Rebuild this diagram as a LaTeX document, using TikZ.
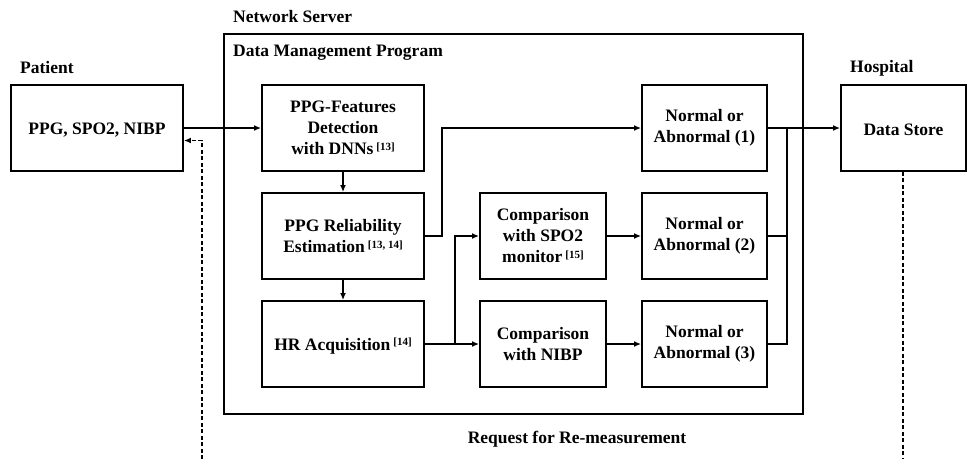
\documentclass[tikz,border=0pt]{standalone}
\usepackage{fontspec}
\setmainfont{Liberation Serif}
\usetikzlibrary{arrows.meta,calc}
\newcommand{\refsup}[1]{\raisebox{0.55ex}{\fontsize{11}{11}\selectfont #1}}
\begin{document}
\begin{tikzpicture}[x=1pt,y=-1pt,
  txt/.style={font=\bfseries\fontsize{17.5}{21}\selectfont},
  box/.style={draw,line width=1.9pt,align=center,inner sep=0pt,
    minimum height=86pt,txt,execute at begin node={\rule{0pt}{16pt}}},
  title/.style={txt,anchor=west,inner sep=0pt},
  conn/.style={line width=1.6pt},
  arr/.style={conn,-{Latex[length=7pt,width=6pt]}},
  dash line/.style={line width=1.4pt,dash pattern=on 4pt off 2.5pt}]
\useasboundingbox (0,0) rectangle (967,459);

% outer server frame
\node[draw,line width=1.9pt,minimum width=579pt,minimum height=380pt,inner sep=0pt]
  (server) at (513.5,224) {};

% titles
\node[title] (tserver) at (233,17) {Network Server};
\node[title] (tprog)   at (233,53) {Data Management Program};
\node[title] (tpat)    at (20,68)  {Patient};
\node[title] (thosp)   at (850,68) {Hospital};
\node[txt,inner sep=0pt] (treq) at (577,439) {Request for Re-measurement};

% boxes
\node[box,minimum width=172pt] (patient) at (97,128) {PPG, SPO2, NIBP};
\node[box,minimum width=162pt] (ppgf) at (343,128) {PPG-Features\\Detection\\with DNNs\,\refsup{[13]}};
\node[box,minimum width=162pt] (rel)  at (343,236) {PPG Reliability\\Estimation\,\refsup{[13, 14]}};
\node[box,minimum width=162pt] (hr)   at (343,344) {HR Acquisition\,\refsup{[14]}};
\node[box,minimum width=126pt] (spo2) at (543,236) {Comparison\\with SPO2\\monitor\,\refsup{[15]}};
\node[box,minimum width=126pt] (nibp) at (543,344) {Comparison\\with NIBP};
\node[box,minimum width=125pt] (n1) at (704.5,128) {Normal or\\Abnormal (1)};
\node[box,minimum width=125pt] (n2) at (704.5,236) {Normal or\\Abnormal (2)};
\node[box,minimum width=125pt] (n3) at (704.5,344) {Normal or\\Abnormal (3)};
\node[box,minimum width=125pt] (store) at (903.5,128) {Data Store};

% junction points
\coordinate (hrsplit) at (455,344);
\coordinate (join) at (787,128);
\coordinate (storeEnd) at (903,459);
\coordinate (patStart) at (202,459);

% connectors
\draw[arr] (patient.east) -- (ppgf.west);
\draw[arr] (ppgf.south) -- (rel.north);
\draw[arr] (rel.south) -- (hr.north);
\draw[arr] (rel.east) -- ++(17,0) |- (n1.west);
\draw[arr] (hr.east) -- (nibp.west);
\draw[arr] (hrsplit) |- (spo2.west);
\draw[arr] (spo2.east) -- (n2.west);
\draw[arr] (nibp.east) -- (n3.west);
\draw[arr] (n1.east) -- (store.west);
\draw[conn] (n3.east) -| (join);
\draw[conn] (n2.east) -- (n2.east -| join);

% re-measurement request (dashed)
\draw[dash line] (storeEnd |- store.south) -- (storeEnd);
\draw[dash line,-{Latex[length=7pt,width=6pt]}] (patStart) |- ([yshift=-12.5pt]patient.east);
\end{tikzpicture}
\end{document}
